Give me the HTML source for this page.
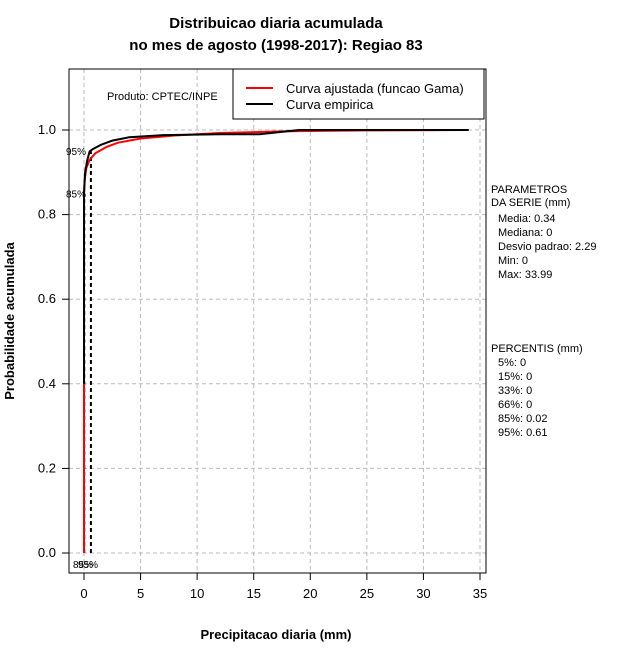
<!DOCTYPE html>
<html><head><meta charset="utf-8"><style>
body{margin:0;background:#fff}
svg{display:block;font-family:"Liberation Sans",sans-serif}
</style></head><body>
<svg id="c" width="640" height="660" xmlns="http://www.w3.org/2000/svg">
<text x="276" y="28" text-anchor="middle" font-size="15" font-weight="bold">Distribuicao diaria acumulada</text>
<text x="276" y="50" text-anchor="middle" font-size="15" font-weight="bold">no mes de agosto (1998-2017): Regiao 83</text>
<g id="grid"></g>
<g id="ticks"></g>
<g id="series"></g>
<rect x="69" y="69" width="417" height="504" fill="none" stroke="#000"/>
<text x="107" y="100" font-size="11">Produto: CPTEC/INPE</text>
<g>
<rect x="233" y="69" width="251" height="50" fill="#fff" stroke="#000"/>
<line x1="246" y1="88" x2="273" y2="88" stroke="#f00" stroke-width="2"/>
<text x="286" y="93" font-size="13">Curva ajustada (funcao Gama)</text>
<line x1="246" y1="104" x2="273" y2="104" stroke="#000" stroke-width="2"/>
<text x="286" y="109" font-size="13">Curva empirica</text>
</g>
<text x="276" y="639" text-anchor="middle" font-size="13" font-weight="bold">Precipitacao diaria (mm)</text>
<text transform="translate(14,321) rotate(-90)" text-anchor="middle" font-size="13" font-weight="bold">Probabilidade acumulada</text>
<g font-size="11">
<text x="491" y="193">PARAMETROS</text>
<text x="491" y="206">DA SERIE (mm)</text>
<text x="498" y="222">Media: 0.34</text>
<text x="498" y="236">Mediana: 0</text>
<text x="498" y="250">Desvio padrao: 2.29</text>
<text x="498" y="264">Min: 0</text>
<text x="498" y="278">Max: 33.99</text>
<text x="491" y="352">PERCENTIS (mm)</text>
<text x="498" y="366">5%: 0</text>
<text x="498" y="380">15%: 0</text>
<text x="498" y="394">33%: 0</text>
<text x="498" y="408">66%: 0</text>
<text x="498" y="422">85%: 0.02</text>
<text x="498" y="436">95%: 0.61</text>
</g>
</svg>
<script>
const xTicks=[0,5,10,15,20,25,30,35];
const yTicks=[0,0.2,0.4,0.6,0.8,1.0];
const empX=[0,0,0.1,0.3,0.5,0.8,1.5,2.5,4,7,12,15.5,19,34];
const empP=[0.4,0.85,0.9,0.93,0.95,0.955,0.965,0.975,0.983,0.988,0.99,0.99,1,1];
const gamX=[0,0,0.05,0.2,0.5,1,2,3,5,8,12,18,25,34];
const gamP=[0,0.85,0.88,0.91,0.93,0.945,0.96,0.97,0.98,0.987,0.993,0.997,0.999,1];
const pct=[0.02,0.61];
const pctP=[0.85,0.95];
const pctLab=["85%","95%"];
const X=v=>84+v*(480-84)/35, Y=p=>553-p*423;
const NS="http://www.w3.org/2000/svg";
function mk(t,a,parent){const e=document.createElementNS(NS,t);for(const k in a)e.setAttribute(k,a[k]);document.getElementById(parent).appendChild(e);return e;}
xTicks.forEach(v=>{
 const g=mk('line',{x1:X(v),x2:X(v),y1:69,y2:573,stroke:'#bbb','stroke-dasharray':'4,3'},'grid');
 
 
 const t=mk('line',{x1:X(v),x2:X(v),y1:573,y2:580,stroke:'#000'},'ticks');
 
 
 const l=mk('text',{x:X(v),y:598,'text-anchor':'middle','font-size':13},'ticks');l.textContent=v;
 
 
});
yTicks.forEach(v=>{
 const g=mk('line',{x1:69,x2:486,y1:Y(v),y2:Y(v),stroke:'#bbb','stroke-dasharray':'4,3'},'grid');
 
 
 const t=mk('line',{x1:62,x2:69,y1:Y(v),y2:Y(v),stroke:'#000'},'ticks');
 
 
 const l=mk('text',{x:56,y:Y(v)+4,'text-anchor':'end','font-size':13},'ticks');l.textContent=v.toFixed(1);
 
 
});
pct.forEach((v,i)=>{
 const l=mk('line',{x1:X(v),x2:X(v),y1:553,y2:Y(pctP[i]),stroke:'#000','stroke-width':2,'stroke-dasharray':'4,3'},'series');
 
 
 const t=mk('text',{x:66,y:Y(pctP[i])+4,'font-size':10},'series');t.textContent=pctLab[i];
 
 
 const b=mk('text',{x:73+i*5,y:568,'font-size':10},'series');b.textContent=pctLab[i];
 
 
});
function path(xs,ps,col,name){
 const d=xs.map((v,i)=>(i?'L':'M')+X(v).toFixed(1)+','+Y(ps[i]).toFixed(1)).join('');
 const p=mk('path',{d:d,fill:'none',stroke:col,'stroke-width':2},'series');
 
 
}
path(gamX,gamP,'#f00','gamma-curve');
path(empX,empP,'#000','empirical-curve');
</script>
</body></html>
